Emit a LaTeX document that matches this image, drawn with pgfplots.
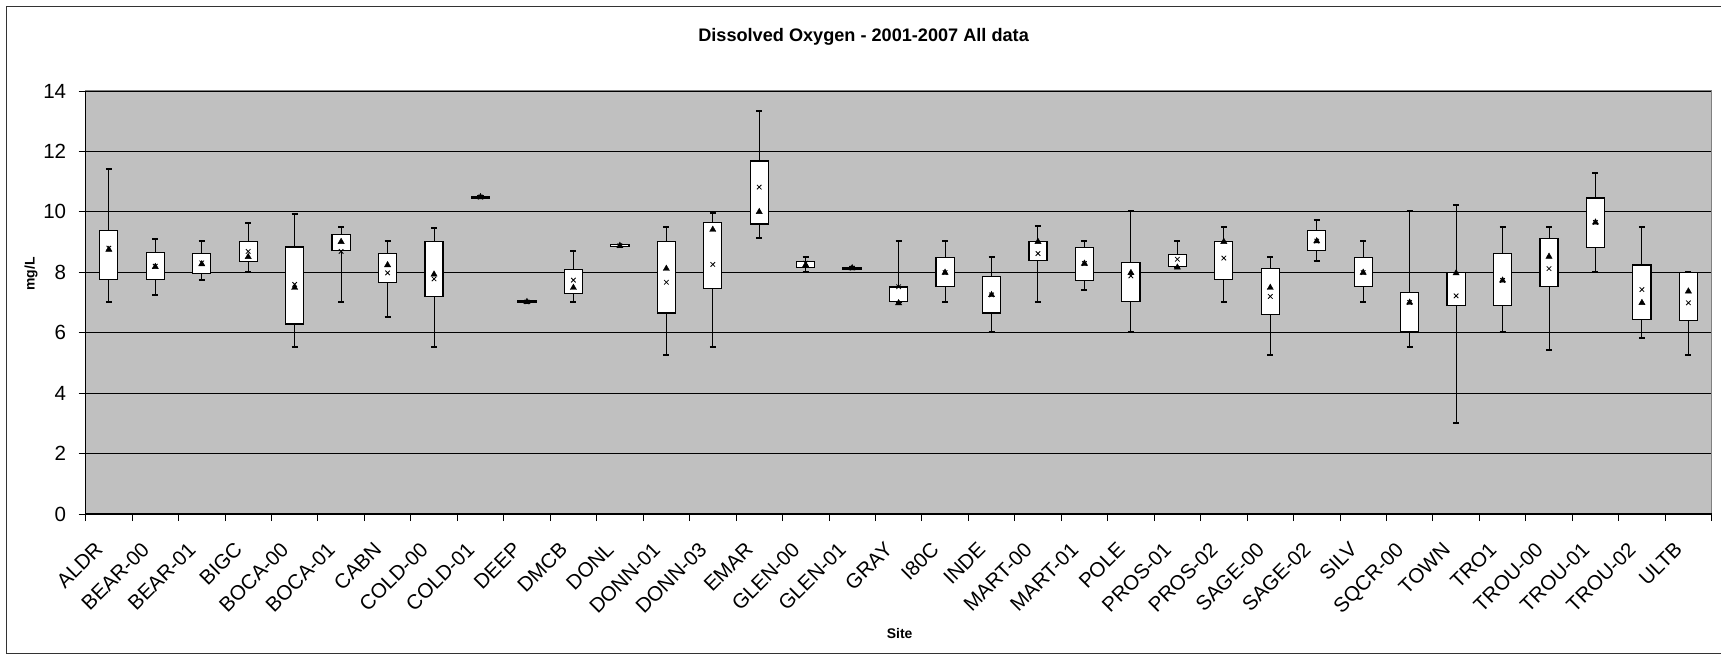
\documentclass[border=0pt]{standalone}
\usepackage{pgfplots}
\usepackage{pgfplotstable}
\usepackage{fontspec}
\setmainfont{Liberation Sans}
\pgfplotsset{compat=1.18}
\usepgfplotslibrary{statistics}
\definecolor{plotbg}{RGB}{192,192,192}
\definecolor{frameg}{RGB}{128,128,128}

% idx lower-whisker lower-quartile upper-quartile upper-whisker x-mark triangle-mark
\pgfplotstableread{
idx lw lq uq uw mean med
0 7.02 7.76 9.39 11.41 8.80 8.75
1 7.26 7.76 8.65 9.11 8.20 8.18
2 7.75 7.97 8.62 9.02 8.31 8.27
3 8.00 8.35 9.01 9.63 8.69 8.51
4 5.52 6.29 8.84 9.93 7.60 7.49
5 7.02 8.73 9.24 9.51 8.69 9.01
6 6.51 7.65 8.62 9.02 7.98 8.24
7 5.52 7.19 9.01 9.45 7.78 7.93
8 10.46 10.46 10.52 10.52 10.49 10.49
9 6.99 6.99 7.05 7.05 7.02 7.02
10 7.02 7.29 8.09 8.70 7.74 7.49
11 8.85 8.85 8.91 8.91 8.88 8.88
12 5.25 6.65 9.01 9.51 7.67 8.12
13 5.52 7.47 9.65 9.97 8.26 9.41
14 9.14 9.60 11.68 13.33 10.82 10.00
15 8.00 8.15 8.37 8.52 8.30 8.24
16 8.11 8.11 8.17 8.17 8.14 8.14
17 7.00 7.03 7.51 9.02 7.52 6.98
18 7.02 7.53 8.49 9.02 7.99 7.99
19 6.01 6.65 7.87 8.51 7.25 7.25
20 7.02 8.40 9.03 9.54 8.62 9.01
21 7.41 7.74 8.82 9.02 8.29 8.29
22 6.01 7.03 8.33 10.02 7.88 7.98
23 8.16 8.19 8.60 9.02 8.43 8.16
24 7.02 7.76 9.01 9.51 8.47 9.01
25 5.25 6.59 8.12 8.52 7.20 7.49
26 8.36 8.73 9.37 9.74 9.03 9.03
27 7.02 7.53 8.49 9.02 7.99 7.99
28 5.52 6.03 7.34 10.04 7.00 7.00
29 3.02 6.91 7.99 10.22 7.22 7.97
30 6.01 6.91 8.62 9.51 7.73 7.73
31 5.43 7.53 9.12 9.51 8.12 8.52
32 8.00 8.83 10.46 11.29 9.65 9.65
33 5.83 6.44 8.24 9.50 7.43 6.99
34 5.25 6.40 8.00 8.02 6.99 7.37
}\datatable

\begin{document}
\begin{tikzpicture}[x=1bp,y=1bp]
\useasboundingbox (-85.6,-142) rectangle (1635.4,514);
\draw[line width=1.5bp, black!80] (1650,507.5) -- (-79,507.5) -- (-79,-139.5) -- (1650,-139.5);
\begin{axis}[
  at={(0,0)}, anchor=south west,
  scale only axis, width=1626bp, height=423bp,
  xmin=-0.5, xmax=34.5, ymin=0, ymax=14,
  xtick={-0.5,0.5,...,34.5},
  x tick label as interval,
  xticklabels={ALDR,BEAR-00,BEAR-01,BIGC,BOCA-00,BOCA-01,CABN,COLD-00,COLD-01,DEEP,DMCB,DONL,DONN-01,DONN-03,EMAR,GLEN-00,GLEN-01,GRAY,I80C,INDE,MART-00,MART-01,POLE,PROS-01,PROS-02,SAGE-00,SAGE-02,SILV,SQCR-00,TOWN,TRO1,TROU-00,TROU-01,TROU-02,ULTB},
  ytick={0,2,...,14},
  ymajorgrids, major grid style={black, line width=0.8bp},
  axis background/.style={fill=plotbg},
  axis line style={frameg, line width=1bp},
  tick pos=left, tick align=outside, major tick length=7bp,
  major tick style={black, line width=0.8bp},
  tick label style={font=\fontsize{20.6}{25}\selectfont},
  yticklabel style={xshift=-9bp},
  xticklabel style={xshift=-15bp, yshift=-15bp, rotate=45, anchor=north east},
  /pgf/number format/assume math mode=true,
  boxplot/draw direction=y,
  boxplot/box extend=0.39,
  boxplot/whisker extend=0.13,
  boxplot/every box/.style={draw=black, fill=white, line width=1.2bp},
  boxplot/every median/.style={draw=none},
  boxplot/draw/lower whisker/.code={%
    \draw[black, line width=1bp]
      (boxplot box cs:\pgfplotsboxplotvalue{lower whisker},0.5) --
      (boxplot box cs:\pgfplotsboxplotvalue{lower quartile},0.5);
    \draw[black, line width=2bp]
      (boxplot whisker cs:\pgfplotsboxplotvalue{lower whisker},0) --
      (boxplot whisker cs:\pgfplotsboxplotvalue{lower whisker},1);
  },
  boxplot/draw/upper whisker/.code={%
    \draw[black, line width=1bp]
      (boxplot box cs:\pgfplotsboxplotvalue{upper whisker},0.5) --
      (boxplot box cs:\pgfplotsboxplotvalue{upper quartile},0.5);
    \draw[black, line width=2bp]
      (boxplot whisker cs:\pgfplotsboxplotvalue{upper whisker},0) --
      (boxplot whisker cs:\pgfplotsboxplotvalue{upper whisker},1);
  },
  clip=false,
]
\pgfplotsinvokeforeach{0,...,34}{
  \pgfplotstablegetelem{#1}{lw}\of\datatable \edef\bxlw{\pgfplotsretval}
  \pgfplotstablegetelem{#1}{lq}\of\datatable \edef\bxlq{\pgfplotsretval}
  \pgfplotstablegetelem{#1}{uq}\of\datatable \edef\bxuq{\pgfplotsretval}
  \pgfplotstablegetelem{#1}{uw}\of\datatable \edef\bxuw{\pgfplotsretval}
  \edef\bxtemp{\noexpand\addplot[black, boxplot prepared={draw position=#1,
      lower whisker=\bxlw, lower quartile=\bxlq, median=\bxlq,
      upper quartile=\bxuq, upper whisker=\bxuw}] coordinates {};}
  \bxtemp
}
\addplot[only marks, mark=triangle*, mark size=3.6bp, black] table[x=idx, y=med] {\datatable};
\addplot[only marks, mark=x, mark size=3.2bp, black, line width=0.8bp] table[x=idx, y=mean] {\datatable};
\draw[black, line width=1bp] (rel axis cs:0,1) -- (rel axis cs:0,0) -- (rel axis cs:1,0);
\end{axis}
\node[font=\bfseries\fontsize{18.2}{21}\selectfont] at (778,477) {Dissolved Oxygen - 2001-2007 All data};
\node[font=\bfseries\fontsize{14}{16}\selectfont] at (814,-120) {Site};
\node[font=\bfseries\fontsize{14}{16}\selectfont, rotate=90] at (-54.6,240) {mg/L};
\end{tikzpicture}
\end{document}
